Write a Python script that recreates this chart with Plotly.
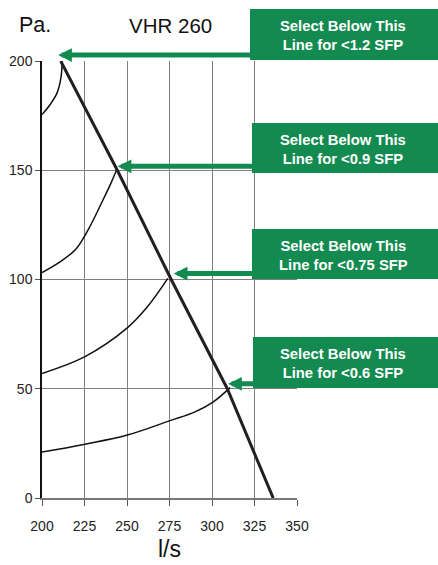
import plotly.graph_objects as go

# ---- data ----
system_flow = [211, 244.3, 276, 309, 336]
system_pa = [200, 150, 100, 50, 0]

fan1_flow = [200, 204.7, 208.8, 211.2, 211.8]
fan1_pa = [175.5, 180, 185.3, 192.6, 200]

fan2_flow = [200, 210.6, 220, 228, 235, 240.5, 244]
fan2_pa = [103.2, 108.1, 114, 124, 135, 144, 150.5]

fan3_flow = [200, 225.3, 249.8, 262, 274]
fan3_pa = [57, 64.7, 77.6, 87.5, 100.5]

fan4_flow = [200, 225.3, 250.2, 275.3, 290, 300.8, 310.6]
fan4_pa = [21, 24.6, 28.8, 35.4, 39.4, 44, 50.5]

sfp_labels = ["&lt;1.2", "&lt;0.9", "&lt;0.75", "&lt;0.6"]
sfp_flow = [209.5, 244.5, 277.5, 309.5]
sfp_pa = [200, 150, 100, 50]

x_ticks = [200, 225, 250, 275, 300, 325, 350]
y_ticks = [0, 50, 100, 150, 200]

GREEN = "#138A4F"
ML, MT, PW, PH = 42, 61, 255, 437


def px_x(px):
    return (px - ML) / PW


def px_y(py):
    return (MT + PH - py) / PH


fig = go.Figure()
for fx, fy in [(fan1_flow, fan1_pa), (fan2_flow, fan2_pa), (fan3_flow, fan3_pa), (fan4_flow, fan4_pa)]:
    fig.add_trace(go.Scatter(x=fx, y=fy, mode="lines",
                             line=dict(color="#111111", width=1.5, shape="spline", smoothing=1),
                             showlegend=False, hoverinfo="skip"))
fig.add_trace(go.Scatter(x=system_flow, y=system_pa, mode="lines",
                         line=dict(color="#231F20", width=3),
                         showlegend=False, hoverinfo="skip"))

box_px = [(9, 60), (123, 173), (229, 279), (337, 388)]
arrow_shift = [6, 4, 6, 5]
box_left_px = [250, 252, 252, 253]
for i, lab in enumerate(sfp_labels):
    t, b = box_px[i]
    y0, y1 = px_y(b), px_y(t)
    fig.add_shape(type="rect", xref="paper", yref="paper", x0=px_x(box_left_px[i]), x1=px_x(445),
                  y0=y0, y1=y1, fillcolor=GREEN, line=dict(width=0), layer="above")
    fig.add_annotation(xref="paper", yref="paper", x=px_x(343), y=(y0 + y1) / 2 - 0.003,
                       text="Select Below This<br>Line for " + lab + " SFP", showarrow=False,
                       font=dict(family="Liberation Sans, Arial", size=14.8, color="white", weight="bold"),
                       align="center", xanchor="center", yanchor="middle")
    tip_px = ML + (sfp_flow[i] - 200) * PW / 150
    fig.add_annotation(x=sfp_flow[i], y=sfp_pa[i], xref="x", yref="y", text="",
                       showarrow=True, arrowhead=2, arrowsize=0.55, arrowwidth=5,
                       arrowcolor=GREEN, ax=box_left_px[i] - tip_px + 2, ay=0,
                       yshift=arrow_shift[i], standoff=0)

fig.add_annotation(xref="paper", yref="paper", x=px_x(17), y=px_y(25),
                   text="Pa.", showarrow=False, xanchor="left", yanchor="middle",
                   font=dict(family="Liberation Sans, Arial", size=21.5, color="#111"))
fig.add_annotation(xref="paper", yref="paper", x=px_x(170), y=px_y(25),
                   text="VHR 260", showarrow=False, xanchor="center", yanchor="middle",
                   font=dict(family="Liberation Sans, Arial", size=20.5, color="#111"))
fig.add_annotation(xref="paper", yref="paper", x=px_x(169), y=px_y(549),
                   text="l/s", showarrow=False, xanchor="center", yanchor="middle",
                   font=dict(family="Liberation Sans, Arial", size=23, color="#111"))

tickfont = dict(family="Liberation Sans, Arial", size=14, color="#222")
fig.update_xaxes(range=[200, 350], tickvals=x_ticks, showgrid=True, gridcolor="#808080", gridwidth=1,
                 ticks="outside", ticklen=6, tickcolor="#555", showline=True, linecolor="#777",
                 linewidth=1.5, zeroline=False, tickfont=tickfont, automargin=False,
                 ticklabelstandoff=8)
fig.update_yaxes(range=[0, 200], tickvals=y_ticks, showgrid=True, gridcolor="#808080", gridwidth=1,
                 ticks="outside", ticklen=5, tickcolor="#555", showline=True, linecolor="#111",
                 linewidth=1.5, zeroline=False, tickfont=tickfont, automargin=False)

fig.update_layout(width=438, height=565, margin=dict(l=ML, r=438 - ML - PW, t=MT, b=565 - MT - PH),
                  plot_bgcolor="white", paper_bgcolor="white")
fig.write_html("out.html", config={"displayModeBar": False},
               post_script="document.body.style.margin='0';document.body.style.overflow='hidden';")
